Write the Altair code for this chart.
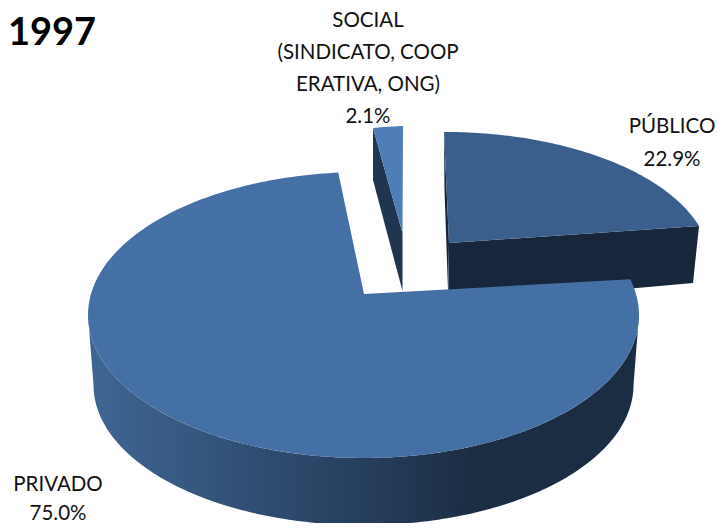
import math
import numpy as np
import pandas as pd
import altair as alt

# ---- data ----
categories = ["PRIVADO", "PÚBLICO", "SOCIAL\n(SINDICATO, COOP\nERATIVA, ONG)"]
shares = [75.0, 22.9, 2.1]
share_labels = ["75.0%", "22.9%", "2.1%"]
year_title = "1997"

# ---- layout of the pseudo-3D pie (pixels in the 723x531 picture) ----
CX, CY, A, B = 363.5, 315.0, 275.5, 143.0      # ellipse of the top face
H = 0.147                                       # perspective shift of the centre
START = 6.1                                     # where PÚBLICO starts, degrees ccw
APEX = np.array([364.0, 294.0])
PUBLIC_APEX = np.array([449.0, 243.0])
PUBLIC_RIM = [(699.0, 226.0), (444.0, 132.0)]
SOCIAL_APEX = np.array([402.5, 233.0])
SOCIAL_RIM = [(403.0, 126.0), (373.0, 128.0)]


def rim(phi_deg):
    """Point of the top-face ellipse for a true pie angle (perspective circle)."""
    p = math.radians(phi_deg)
    den = 1 + H * math.sin(p)
    u = math.sqrt(1 - H * H) * math.cos(p) / den
    v = (math.sin(p) + H) / den
    return np.array([CX + A * u, CY - B * v])


def arc(a0, a1, n=90):
    return [rim(a) for a in np.linspace(a0, a1, n)]


def fitter(a0, a1, apex, targets):
    """Affine map taking the rim of a slice to its exploded, farther position."""
    src = np.array([rim(a0) - APEX, rim(a1) - APEX]).T
    dst = np.array([np.array(targets[0]) - apex, np.array(targets[1]) - apex]).T
    m = dst @ np.linalg.inv(src)
    return lambda p: apex + m @ (np.asarray(p) - APEX)


def feature(points):
    ring = [[float(x), float(y)] for x, y in points]
    ring.append(ring[0])
    return {"type": "Feature", "properties": {},
            "geometry": {"type": "Polygon", "coordinates": [ring]}}


sweep = [s * 3.6 for s in shares]
pub0, pub1 = START, START + sweep[1]
soc0, soc1 = pub1, pub1 + sweep[2]
pri0, pri1 = soc1, soc1 + sweep[0]

# private
private_top = [APEX] + arc(pri0, pri1, 240)
left_tangent = 180 - math.degrees(math.asin(-H))
right_tangent = 360 + math.degrees(math.asin(-H))
front = arc(left_tangent, right_tangent, 160)
k = 0.98
back = [np.array([CX + (p[0] - CX) * k, CY + 70 + (p[1] - CY) * k]) for p in front]
private_wall = front + back[::-1]

# public
pub = fitter(pub0, pub1, PUBLIC_APEX, PUBLIC_RIM)
public_rim = [pub(p) for p in arc(pub0, pub1, 80)]
public_top = [PUBLIC_APEX] + public_rim
r0, r1 = public_rim[0], public_rim[-1]
public_wall = [PUBLIC_APEX, r0, r0 + np.array([-6, 57]), PUBLIC_APEX + np.array([-1, 62])]
public_inner = [r1, PUBLIC_APEX, PUBLIC_APEX + np.array([-1, 47]), r1 + np.array([0.5, 58])]

# social
soc = fitter(soc0, soc1, SOCIAL_APEX, SOCIAL_RIM)
social_rim = [soc(p) for p in arc(soc0, soc1, 12)]
social_top = [SOCIAL_APEX] + social_rim
s1 = social_rim[-1]
social_wall = [s1, SOCIAL_APEX, SOCIAL_APEX + np.array([0, 58]), s1 + np.array([0, 52])]

projection = alt.Projection(type="identity", scale=1, translate=[-8, -8])


def shape(points, fill):
    return alt.Chart(alt.Data(values=[feature(points)])).mark_geoshape(
        fill=fill, stroke=None, strokeWidth=0
    ).project(**projection.to_dict())


wall_gradient = alt.Gradient(
    gradient="linear", x1=0, y1=0, x2=1, y2=0,
    stops=[
        alt.GradientStop(offset=0.0, color="#3F6694"),
        alt.GradientStop(offset=0.49, color="#273F5E"),
        alt.GradientStop(offset=0.70, color="#1B2D43"),
        alt.GradientStop(offset=1.0, color="#1B2D43"),
    ],
)


def label(text, x, y, line_height=33):
    """Centred multi-line label; x, y are the centre of its first line in the picture."""
    return alt.Chart(pd.DataFrame({"t": [text]})).mark_text(
        font="Lato", fontSize=20.5, color="#111111", align="center", baseline="middle",
        lineBreak="\n", lineHeight=line_height,
    ).encode(x=alt.value(x - 8), y=alt.value(y - 8), text="t:N")


title = alt.Chart(pd.DataFrame({"t": [year_title]})).mark_text(
    font="Lato", fontSize=38, fontWeight="bold", color="#000000", align="left", baseline="middle",
).encode(x=alt.value(0), y=alt.value(34 - 8), text="t:N")

chart = alt.layer(
    shape(public_inner, "#17263A"),
    shape(public_wall, "#17263A"),
    shape(public_top, "#3A5F8C"),
    shape(social_wall, "#1F3550"),
    shape(social_top, "#4E7DB8"),
    shape(private_wall, wall_gradient),
    shape(private_top, "#4470A6"),
    title,
    label(f"{categories[2]}\n{share_labels[2]}", 368, 21, 32),
    label(f"{categories[1]}\n{share_labels[1]}", 672, 127),
    label(f"{categories[0]}\n{share_labels[0]}", 58, 485, 29),
).properties(
    width=707, height=515, padding=0,
    autosize=alt.AutoSizeParams(type="none"),
    background="#FFFFFF",
).configure_view(stroke=None)

chart.save("out.html", embed_options={"renderer": "svg", "actions": False})
